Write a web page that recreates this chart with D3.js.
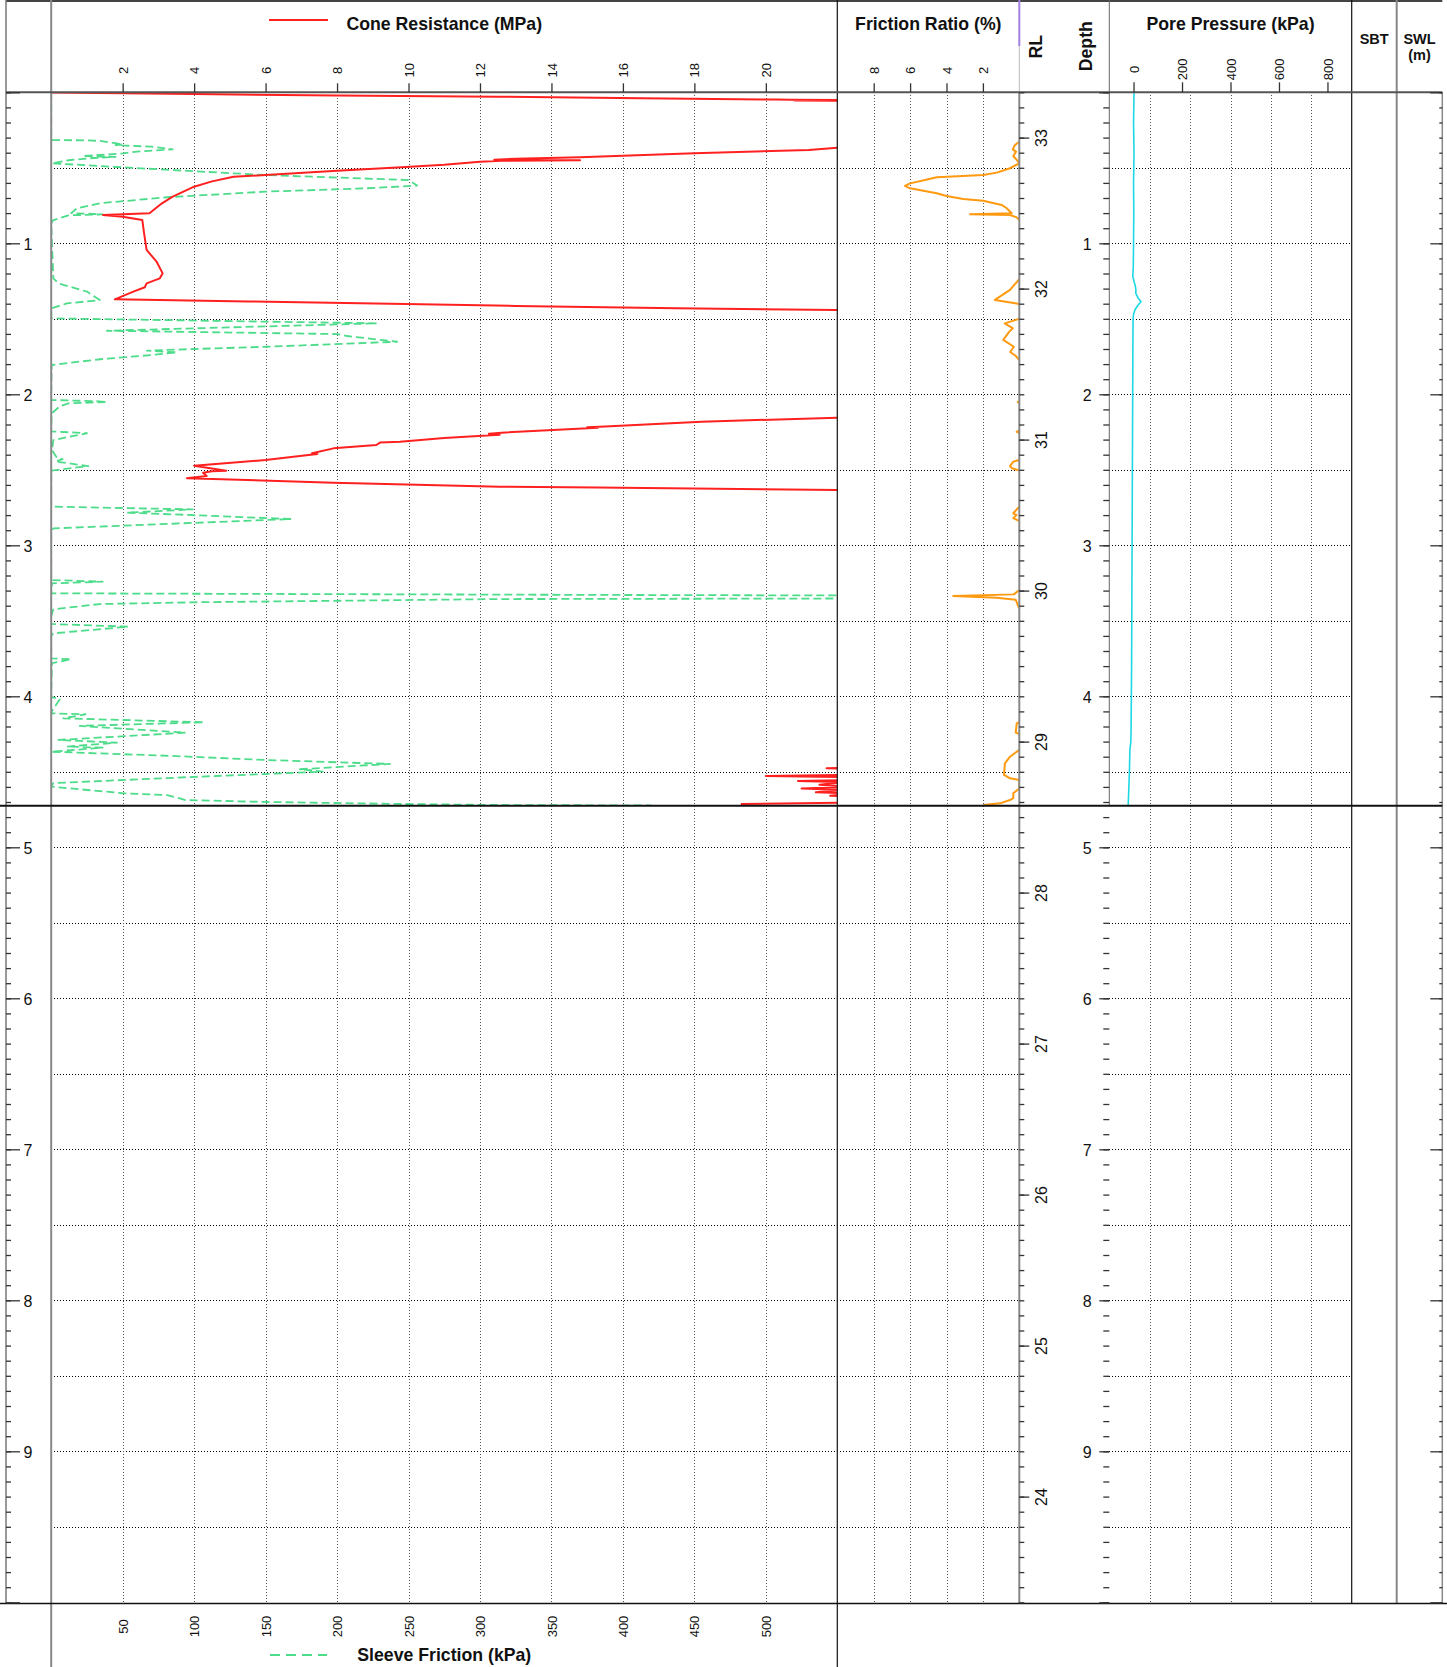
<!DOCTYPE html>
<html>
<head>
<meta charset="utf-8">
<script src="https://cdn.jsdelivr.net/npm/d3@7"></script>
<style>
html,body{margin:0;padding:0;background:#fff;}
svg{display:block;font-family:"Liberation Sans",Arial,Helvetica,sans-serif;}
</style>
</head>
<body>
<svg id="chart" width="1447" height="1667"></svg>
<script>
// ---- CPT record: [depth (m), value] ----
const coneResistance = [ // qc, MPa
  [0.002,0],[0.012,4],[0.021,8],[0.029,12.5],[0.040,16.5],[0.048,20.3],[0.050,20.7],
  [0.052,22.3],[0.054,20.8],[0.057,22.5],[0.062,26],[0.200,30],[0.340,27],[0.362,23],
  [0.367,22],[0.382,21.2],[0.404,18],[0.430,14.8],[0.440,13],[0.446,12.4],[0.450,14.8],
  [0.454,12.6],[0.460,12],[0.480,11],[0.497,9.8],[0.519,8],[0.548,6],[0.559,5.1],
  [0.590,4.5],[0.625,4],[0.691,3.4],[0.735,3.1],[0.801,2.75],[0.813,1.45],[0.824,2.0],
  [0.846,2.55],[0.934,2.6],[1.044,2.67],[1.122,2.95],[1.199,3.12],[1.232,3.04],
  [1.265,2.67],[1.291,2.62],[1.320,2.3],[1.371,1.78],[1.385,5.5],[1.400,9.5],
  [1.415,13],[1.430,17.5],[1.442,22],[1.450,26],[1.800,30],[2.100,28],[2.150,23],
  [2.155,22],[2.181,18.2],[2.214,15.5],[2.218,15.0],[2.221,15.3],[2.254,12.6],
  [2.262,12.25],[2.268,12.55],[2.290,11],[2.314,9.76],[2.320,9.2],[2.336,9.1],
  [2.358,7.9],[2.391,7.3],[2.395,7.45],[2.402,7.2],[2.435,6.0],[2.473,4.0],[2.506,4.9],
  [2.510,4.5],[2.519,4.25],[2.541,4.35],[2.556,3.8],[2.585,7.9],[2.612,12.55],
  [2.617,15.3],[2.634,22],[2.640,26],[3.000,30],[4.000,30],[4.460,26],[4.470,23],
  [4.477,21.7],[4.482,23],[4.520,22.5],[4.528,20.0],[4.535,22.5],[4.555,22.3],
  [4.561,20.9],[4.568,22.2],[4.585,21.5],[4.600,22.4],[4.610,21.0],[4.620,22.2],
  [4.636,21.4],[4.645,22.5],[4.658,21.8],[4.665,22.5],[4.705,22.3],[4.713,19.3]
];

const sleeveFriction = [ // fs, kPa
  [0.000,0],[0.300,0],[0.317,0.5],[0.318,25],[0.322,34],[0.330,40],[0.345,50],[0.350,45],
  [0.360,70],[0.378,85],[0.393,60],[0.405,50],[0.415,34],[0.422,22],[0.428,45],[0.435,30],
  [0.450,12],[0.470,0.5],[0.497,50],[0.548,150],[0.581,250],[0.618,256],[0.636,220],
  [0.658,150],[0.695,81],[0.735,34],[0.768,18],[0.800,14],[0.808,36],[0.815,12],
  [0.846,1.5],[0.868,0],[1.232,1.5],[1.265,5],[1.320,25],[1.376,34],[1.398,11],
  [1.431,0.3],[1.497,0],[1.530,228],[1.579,39],[1.601,200],[1.614,207],[1.652,242],
  [1.685,151],[1.700,100],[1.711,67],[1.722,88],[1.740,70],[1.768,34],[1.806,0.3],
  [2.038,0],[2.045,30],[2.051,39],[2.060,12],[2.080,6],[2.126,0.3],[2.245,0],[2.258,25],
  [2.303,1.5],[2.370,0.5],[2.420,4],[2.430,8],[2.445,3],[2.475,26],[2.505,0],[2.744,0],
  [2.762,99],[2.784,53],[2.795,85],[2.826,168],[2.888,1.5],[2.910,0],[3.230,0],[3.241,36],
  [3.252,0.5],[3.318,0],[3.329,400],[3.335,700],[3.350,700],[3.356,314],[3.377,104],
  [3.389,34],[3.424,1.5],[3.470,0],[3.521,0],[3.539,54],[3.583,1.5],[3.600,0],[3.749,0],
  [3.755,14],[3.780,0.5],[4.003,0],[4.020,6],[4.100,0.3],[4.113,0.5],[4.119,24],
  [4.146,8.5],[4.172,107],[4.196,20],[4.241,94],[4.289,5],[4.307,46],[4.333,11],
  [4.340,36],[4.367,0.3],[4.395,85],[4.422,151],[4.448,237],[4.483,174],[4.499,190],
  [4.532,104],[4.575,1.5],[4.598,0],[4.642,50],[4.654,81],[4.687,94],[4.700,151],
  [4.713,244],[4.720,314],[4.723,420]
];

const frictionRatio = [ // Rf, %  (null = no reading)
  [0.327,0],[0.349,0.24],[0.378,0.36],[0.393,0.18],[0.422,0.33],[0.448,0.14],[0.470,0],
  [0.503,0.51],[0.532,1.24],[0.548,1.98],[0.563,4.54],[0.581,5.18],[0.603,6.0],
  [0.620,6.28],[0.636,6.0],[0.669,4.54],[0.687,4.0],[0.707,3.08],[0.718,1.98],
  [0.746,0.97],[0.768,0.69],[0.801,0.42],[0.808,2.71],[0.813,0.51],[0.828,0.14],
  [0.846,0],[1.0,null],
  [1.238,0],[1.270,0.24],[1.309,0.51],[1.375,1.34],[1.398,0.14],[1.405,0],[1.45,null],
  [1.500,0],[1.530,0.8],[1.563,0.35],[1.585,0.55],[1.640,0.88],[1.685,0.3],[1.720,0.5],
  [1.745,0.2],[1.773,0],[1.9,null],
  [2.045,0],[2.052,0.08],[2.058,0],[2.1,null],
  [2.240,0],[2.248,0.14],[2.256,0],[2.3,null],
  [2.435,0],[2.446,0.33],[2.475,0.51],[2.490,0.4],[2.505,0],[2.6,null],
  [2.744,0],[2.788,0.33],[2.800,0.15],[2.820,0.33],[2.840,0],[3.0,null],
  [3.296,0],[3.325,0.3],[3.336,3.63],[3.347,1.24],[3.360,0.2],[3.420,0],[3.5,null],
  [4.170,0],[4.180,0.14],[4.240,0.2],[4.250,0],[4.3,null],
  [4.355,0],[4.400,0.51],[4.444,0.79],[4.521,0.84],[4.543,0.51],[4.554,0],
  [4.610,0],[4.642,0.33],[4.675,0.33],[4.687,0.51],[4.709,1.06],[4.720,1.98]
];

const porePressure = [ // u2, kPa
  [0.00,2],[0.20,0],[0.40,2],[0.60,0],[0.80,1],[1.00,0],[1.15,-1],[1.22,-3],[1.26,3],
  [1.28,7],[1.31,10],[1.33,9],[1.36,18],[1.387,31],[1.41,18],[1.44,6],[1.47,0],[1.50,-2],
  [1.80,-3],[2.20,-4],[2.60,-5],[3.00,-6],[3.40,-7],[3.80,-8],[4.20,-10],[4.30,-11],
  [4.35,-15],[4.50,-17],[4.72,-22]
];

const coneTicks = [2,4,6,8,10,12,14,16,18,20];
const sleeveTicks = [50,100,150,200,250,300,350,400,450,500];
const ratioTicks = [8,6,4,2];
const poreTicks = [0,200,400,600,800];
const poreGrid = [66.7,233.3,400,566.7,733.3];
const depthLabels = [1,2,3,4,5,6,7,8,9];
const rlLabels = [33,32,31,30,29,28,27,26,25,24];
const groundRL = 33.30;
const terminationDepth = 4.725;

// ---- layout ----
const svg = d3.select("#chart");
const TOP = 92.3, BOT = 1602.3;
const X_LEFT = 6, X_CONE0 = 51.2, X_CONE1 = 837.3, X_RL = 1019.3, X_PORE0 = 1109.3,
      X_PORE1 = 1351.7, X_SBT = 1396.7, X_RIGHT = 1442.3, FOOT = 1603.5;

const y = d3.scaleLinear().domain([0, 10]).range([TOP, BOT]);
const yRL = d3.scaleLinear().domain([groundRL, groundRL - 10]).range([TOP, BOT]);
const xQc = d3.scaleLinear().domain([0, 22]).range([X_CONE0, X_CONE1]);
const xFs = d3.scaleLinear().domain([0, 550]).range([X_CONE0, X_CONE1]);
const xFr = d3.scaleLinear().domain([10, 0]).range([X_CONE1, X_RL]);
const xU = d3.scaleLinear().domain([-100, 900]).range([X_PORE0, X_PORE1]);
const yEnd = y(terminationDepth);

const crisp = v => Math.round(v) + 0.5;

// ---- grid ----
const grid = svg.append("g").attr("shape-rendering", "crispEdges");
const gridDepths = d3.range(1, 20).map(i => i / 2);
[[X_CONE0, X_RL], [X_PORE0, X_PORE1]].forEach(([a, b]) => {
  grid.append("g").selectAll("line").data(gridDepths).join("line")
    .attr("x1", a).attr("x2", b)
    .attr("y1", d => crisp(y(d))).attr("y2", d => crisp(y(d)))
    .attr("stroke", "#000").attr("stroke-dasharray", "1,2");
});
function vGrid(values, scale) {
  grid.append("g").selectAll("line").data(values).join("line")
    .attr("x1", d => crisp(scale(d))).attr("x2", d => crisp(scale(d)))
    .attr("y1", TOP).attr("y2", FOOT)
    .attr("stroke", "#555").attr("stroke-dasharray", "1,2");
}
vGrid(coneTicks, xQc);
vGrid(ratioTicks, xFr);
vGrid(poreGrid, xU);

// ---- clip regions ----
const defs = svg.append("defs");
function clipRect(id, x0, x1) {
  defs.append("clipPath").attr("id", id).append("rect")
    .attr("x", x0).attr("y", TOP).attr("width", x1 - x0).attr("height", yEnd - TOP);
}
clipRect("clipCone", X_CONE0, X_CONE1);
clipRect("clipRatio", X_CONE1, X_RL);
clipRect("clipPore", X_PORE0, X_PORE1);

// ---- traces ----
const SLEEVE_GREEN = "#4ddc8a";
const traces = svg.append("g").attr("fill", "none").attr("stroke-linejoin", "round");
traces.append("path").datum(sleeveFriction)
  .attr("clip-path", "url(#clipCone)")
  .attr("d", d3.line().x(d => xFs(d[1])).y(d => y(d[0])))
  .attr("stroke", SLEEVE_GREEN).attr("stroke-width", 1.8).attr("stroke-dasharray", "8,4");
traces.append("path").datum(coneResistance)
  .attr("clip-path", "url(#clipCone)")
  .attr("d", d3.line().x(d => xQc(d[1])).y(d => y(d[0])))
  .attr("stroke", "#ff2020").attr("stroke-width", 2);
traces.append("path").datum(frictionRatio)
  .attr("clip-path", "url(#clipRatio)")
  .attr("d", d3.line().defined(d => d[1] != null).x(d => xFr(d[1])).y(d => y(d[0])))
  .attr("stroke", "#ff9a10").attr("stroke-width", 2);
traces.append("path").datum(porePressure)
  .attr("clip-path", "url(#clipPore)")
  .attr("d", d3.line().x(d => xU(d[1])).y(d => y(d[0])))
  .attr("stroke", "#1cd8e4").attr("stroke-width", 1.6);

// ---- frame ----
const frame = svg.append("g");
function seg(x1, y1, x2, y2, color, w) {
  frame.append("line").attr("x1", x1).attr("y1", y1).attr("x2", x2).attr("y2", y2)
    .attr("stroke", color).attr("stroke-width", w);
}
seg(X_LEFT, 1, X_RIGHT, 1, "#444", 2);
seg(X_LEFT, 0, X_LEFT, FOOT, "#777", 1.5);
seg(X_CONE0, 0, X_CONE0, 1667, "#888", 2);
seg(X_CONE1, 0, X_CONE1, 1667, "#111", 1.2);
seg(X_RL, 0, X_RL, 46, "#a080e0", 2);
seg(X_RL, 46, X_RL, TOP, "#bbb", 1);
seg(X_RL, TOP, X_RL, FOOT, "#888", 2);
seg(X_PORE0, 0, X_PORE0, yEnd, "#666", 1);
seg(X_PORE1, 0, X_PORE1, FOOT, "#111", 1.2);
seg(X_SBT, 0, X_SBT, FOOT, "#888", 2);
seg(X_RIGHT, TOP, X_RIGHT, FOOT, "#888", 1.5);
seg(X_LEFT, TOP, X_RIGHT, TOP, "#555", 2);
seg(0, yEnd, X_RIGHT, yEnd, "#111", 2);
seg(0, FOOT, 1447, FOOT, "#111", 1.5);

// ---- axes ----
function finishAxis(g, fontSize) {
  g.attr("font-family", null).attr("font-size", fontSize);
  g.select(".domain").remove();
  g.selectAll(".tick line").attr("stroke", "#333").attr("stroke-width", 1.3);
  g.selectAll(".tick text").attr("fill", "#111");
  return g;
}
function rotateLabels(g, offset) {
  g.selectAll(".tick text")
    .attr("x", 0).attr("y", 0).attr("dy", "0.35em").attr("text-anchor", "middle")
    .attr("transform", `translate(0,${offset}) rotate(-90)`);
}
const fmt = d3.format("d");

const coneAxis = svg.append("g").attr("transform", `translate(0,${TOP})`)
  .call(d3.axisTop(xQc).tickValues(coneTicks).tickSize(9).tickFormat(fmt));
finishAxis(coneAxis, 13); rotateLabels(coneAxis, -22);

const ratioAxis = svg.append("g").attr("transform", `translate(0,${TOP})`)
  .call(d3.axisTop(xFr).tickValues(ratioTicks).tickSize(9).tickFormat(fmt));
finishAxis(ratioAxis, 13); rotateLabels(ratioAxis, -22);

const poreAxis = svg.append("g").attr("transform", `translate(0,${TOP})`)
  .call(d3.axisTop(xU).tickValues(poreTicks).tickSize(10).tickFormat(fmt));
finishAxis(poreAxis, 13); rotateLabels(poreAxis, -23);

const sleeveAxis = svg.append("g").attr("transform", `translate(0,${FOOT})`)
  .call(d3.axisBottom(xFs).tickValues(sleeveTicks).tickSize(0).tickFormat(fmt));
finishAxis(sleeveAxis, 13); rotateLabels(sleeveAxis, 23);

const depthMinor = d3.range(0, 101).map(i => i / 10);
const depthMajor = d3.range(0, 11);
const rlMinor = d3.range(0, 101).map(i => +(groundRL - i / 10).toFixed(2));
const labelIf = list => d => list.includes(d) ? String(d) : "";

// left depth scale
finishAxis(svg.append("g").attr("transform", `translate(${X_LEFT},0)`)
  .call(d3.axisRight(y).tickValues(depthMinor).tickSize(5).tickFormat("")), 16);
const leftMajor = finishAxis(svg.append("g").attr("transform", `translate(${X_LEFT},0)`)
  .call(d3.axisRight(y).tickValues(depthMajor).tickSize(14).tickFormat(labelIf(depthLabels))), 16);
leftMajor.selectAll(".tick text").attr("x", 22).attr("text-anchor", "middle").attr("dy", "0.36em");

// RL scale
finishAxis(svg.append("g").attr("transform", `translate(${X_RL},0)`)
  .call(d3.axisRight(yRL).tickValues(rlMinor).tickSize(5).tickFormat("")), 16);
const rlMajor = finishAxis(svg.append("g").attr("transform", `translate(${X_RL},0)`)
  .call(d3.axisRight(yRL).tickValues(rlLabels).tickSize(10).tickFormat(fmt)), 16);
rlMajor.selectAll(".tick text")
  .attr("x", 0).attr("y", 0).attr("dy", "0.36em").attr("text-anchor", "middle")
  .attr("transform", "translate(22,0) rotate(-90)");

// depth scale beside pore pressure
finishAxis(svg.append("g").attr("transform", `translate(${X_PORE0},0)`)
  .call(d3.axisLeft(y).tickValues(depthMinor).tickSize(6).tickFormat("")), 16);
const midMajor = finishAxis(svg.append("g").attr("transform", `translate(${X_PORE0},0)`)
  .call(d3.axisLeft(y).tickValues(depthMajor).tickSize(10).tickFormat(labelIf(depthLabels))), 16);
midMajor.selectAll(".tick text").attr("x", -22).attr("text-anchor", "middle").attr("dy", "0.36em");

// right edge scale
finishAxis(svg.append("g").attr("transform", `translate(${X_RIGHT},0)`)
  .call(d3.axisLeft(y).tickValues(depthMinor).tickSize(3).tickFormat("")), 16);
finishAxis(svg.append("g").attr("transform", `translate(${X_RIGHT},0)`)
  .call(d3.axisLeft(y).tickValues(depthMajor).tickSize(12).tickFormat("")), 16);

// ---- titles & legends ----
const titles = svg.append("g").attr("font-weight", "bold").attr("fill", "#111");
const coneMid = (X_CONE0 + X_CONE1) / 2;
titles.append("text").attr("x", coneMid).attr("y", 29.5).attr("text-anchor", "middle")
  .attr("font-size", 17.7).text("Cone Resistance (MPa)");
svg.append("line").attr("x1", 269).attr("x2", 328).attr("y1", 20).attr("y2", 20)
  .attr("stroke", "#ff2020").attr("stroke-width", 2);
titles.append("text").attr("x", (X_CONE1 + X_RL) / 2).attr("y", 29.5).attr("text-anchor", "middle")
  .attr("font-size", 17.7).text("Friction Ratio (%)");
titles.append("text").attr("x", (X_PORE0 + X_PORE1) / 2).attr("y", 29.5).attr("text-anchor", "middle")
  .attr("font-size", 17.7).text("Pore Pressure (kPa)");
titles.append("text").attr("transform", "translate(1036,46.7) rotate(-90)")
  .attr("text-anchor", "middle").attr("dy", "0.35em").attr("font-size", 17.7).text("RL");
titles.append("text").attr("transform", "translate(1086,46.2) rotate(-90)")
  .attr("text-anchor", "middle").attr("dy", "0.35em").attr("font-size", 17.7).text("Depth");
titles.append("text").attr("x", (X_PORE1 + X_SBT) / 2).attr("y", 43.5).attr("text-anchor", "middle")
  .attr("font-size", 14.5).text("SBT");
titles.append("text").attr("x", (X_SBT + X_RIGHT) / 2).attr("y", 43.5).attr("text-anchor", "middle")
  .attr("font-size", 14.5).text("SWL");
titles.append("text").attr("x", (X_SBT + X_RIGHT) / 2).attr("y", 60).attr("text-anchor", "middle")
  .attr("font-size", 14.5).text("(m)");
titles.append("text").attr("x", coneMid).attr("y", 1661).attr("text-anchor", "middle")
  .attr("font-size", 17.7).text("Sleeve Friction (kPa)");
svg.append("line").attr("x1", 270).attr("x2", 327).attr("y1", 1655).attr("y2", 1655)
  .attr("stroke", SLEEVE_GREEN).attr("stroke-width", 2).attr("stroke-dasharray", "10,6");
</script>
</body>
</html>
